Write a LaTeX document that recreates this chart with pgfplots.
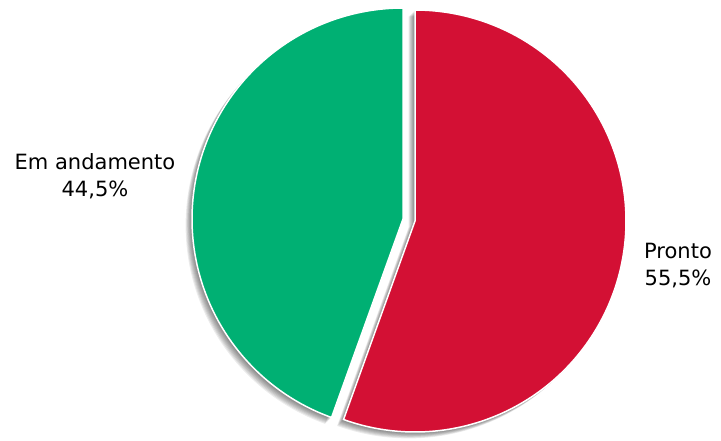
\documentclass[border=0pt]{standalone}
\usepackage{fontspec}
\setmainfont{DejaVu Sans}
\usepackage{pgfplots}
\pgfplotsset{compat=1.18}
\definecolor{pieRed}{RGB}{211,16,52}
\definecolor{pieGreen}{RGB}{0,176,115}
% data (percent)
\def\valPronto{55.5}
\def\valAndamento{44.5}
\pgfmathsetmacro{\angSplit}{90-3.6*\valPronto}% red runs clockwise from 90 to this angle
\pgfmathsetmacro{\angGreenEnd}{\angSplit+360}
\begin{document}
\begin{tikzpicture}
\begin{axis}[
  width=721pt, height=440pt, scale only axis,
  xmin=0, xmax=721, ymin=0, ymax=440,
  hide axis, clip=false,
]
\addplot[draw=none, forget plot] coordinates {(0,0) (721,440)};
% shadows
\pgfplotsinvokeforeach{1,...,8}{
  \addplot[fill=black, draw=none, fill opacity=0.075, domain=\angSplit:90, samples=120, variable=\t]
    ({415-0.8*#1+211*cos(t)},{219-0.8*#1+211*sin(t)}) -- (axis cs:{415-0.8*#1},{219-0.8*#1}) -- cycle;
  \addplot[fill=black, draw=none, fill opacity=0.075, domain=90:\angGreenEnd, samples=120, variable=\t]
    ({403-0.8*#1+211*cos(t)},{221-0.8*#1+211*sin(t)}) -- (axis cs:{403-0.8*#1},{221-0.8*#1}) -- cycle;
}
% Pronto
\addplot[fill=pieRed, draw=white, line width=1.5pt, line join=miter, domain=\angSplit:90, samples=160, variable=\t]
  ({415+211*cos(t)},{219+211*sin(t)}) -- (axis cs:415,219) -- cycle;
% Em andamento
\addplot[fill=pieGreen, draw=white, line width=1.5pt, line join=miter, domain=90:\angGreenEnd, samples=160, variable=\t]
  ({403+211*cos(t)},{221+211*sin(t)}) -- (axis cs:403,221) -- cycle;
\node[align=center, font=\fontsize{21}{27}\selectfont, text=black] at (axis cs:95,264) {Em andamento\\44,5\%};
\node[align=center, font=\fontsize{21}{27}\selectfont, text=black] at (axis cs:678,174) {Pronto\\55,5\%};
\end{axis}
\end{tikzpicture}
\end{document}
